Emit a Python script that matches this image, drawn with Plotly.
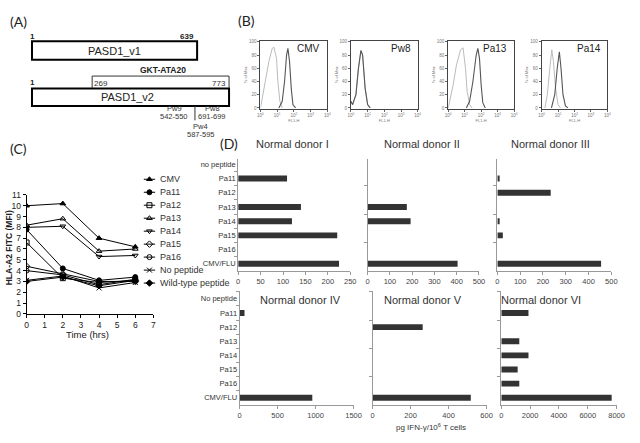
import plotly.graph_objects as go

W, H = 640, 443
FONT = "Liberation Sans, Arial, sans-serif"


def px(x):
    return x / W


def py(y):
    return 1 - y / H


# ---------------- Panel C data ----------------
time_hrs = [0, 2, 4, 6]
cmv = [10.0, 10.2, 7.0, 6.2]
pa11 = [7.8, 4.2, 3.1, 3.4]
pa12 = [6.6, 3.3, 2.9, 3.1]
pa13 = [8.2, 8.8, 5.8, 6.0]
pa14 = [8.0, 8.1, 5.3, 5.4]
pa15 = [4.4, 3.7, 3.0, 3.0]
pa16 = [4.0, 3.6, 2.7, 3.2]
no_peptide = [3.1, 3.5, 2.4, 2.9]
wild_type = [3.0, 3.4, 2.6, 3.1]
series_names = ["CMV", "Pa11", "Pa12", "Pa13", "Pa14", "Pa15", "Pa16",
                "No peptide", "Wild-type peptide"]
series_values = [cmv, pa11, pa12, pa13, pa14, pa15, pa16, no_peptide, wild_type]

# ---------------- Panel D data ----------------
peptides_top = ["no peptide", "Pa11", "Pa12", "Pa13", "Pa14", "Pa15", "Pa16", "CMV/FLU"]
peptides_bottom = ["No peptide", "Pa11", "Pa12", "Pa13", "Pa14", "Pa15", "Pa16", "CMV/FLU"]
donor_I = [0, 109, 0, 140, 120, 221, 0, 225]
donor_II = [0, 0, 0, 176, 193, 0, 0, 404]
donor_III = [0, 10, 234, 0, 10, 24, 0, 455]
donor_IV = [0, 65, 0, 0, 0, 0, 0, 957]
donor_V = [0, 0, 264, 0, 0, 0, 0, 517]
donor_VI = [0, 1886, 0, 1250, 1886, 1136, 1250, 7660]
donor_titles = ["Normal donor I", "Normal donor II", "Normal donor III",
                "Normal donor IV", "Normal donor V", "Normal donor VI"]
donor_ranges = [250, 500, 500, 1500, 600, 8000]
donor_dticks = [50, 100, 100, 500, 200, 2000]

# ---------------- Panel B data (log10 FL1-H, % of max) ----------------
hist_titles = ["CMV", "Pw8", "Pa13", "Pa14"]
cmv_ctrl_x = [0.0, 0.3, 0.5, 0.7, 0.8, 0.96, 1.04, 1.16, 1.3]
cmv_ctrl_y = [0, 40, 70, 90, 92, 75, 40, 10, 0]
cmv_pep_x = [1.1, 1.3, 1.44, 1.56, 1.64, 1.74, 1.84, 1.94, 2.1]
cmv_pep_y = [0, 10, 40, 80, 90, 70, 30, 5, 0]
pw8_ctrl_x = [0.0, 0.1, 0.3, 0.45, 0.6, 0.7, 0.85, 1.0, 1.15]
pw8_ctrl_y = [10, 5, 20, 60, 86, 80, 30, 5, 0]
pw8_pep_x = [0.0, 0.1, 0.3, 0.45, 0.6, 0.7, 0.85, 1.0, 1.15]
pw8_pep_y = [10, 5, 20, 60, 87, 80, 30, 5, 0]
pa13_ctrl_x = [0.0, 0.3, 0.5, 0.75, 0.9, 1.05, 1.15, 1.3, 1.45]
pa13_ctrl_y = [0, 35, 65, 88, 91, 60, 25, 5, 0]
pa13_pep_x = [1.1, 1.3, 1.5, 1.7, 1.8, 1.9, 2.0, 2.1, 2.25]
pa13_pep_y = [0, 10, 40, 80, 90, 75, 35, 8, 0]
pa14_ctrl_x = [0.2, 0.35, 0.5, 0.62, 0.72, 0.85, 1.0, 1.15]
pa14_ctrl_y = [0, 20, 60, 88, 70, 30, 5, 0]
pa14_pep_x = [0.6, 0.8, 0.95, 1.08, 1.18, 1.3, 1.45, 1.6]
pa14_pep_y = [0, 20, 60, 85, 60, 20, 3, 0]
hist_ctrl = [(cmv_ctrl_x, cmv_ctrl_y), (pw8_ctrl_x, pw8_ctrl_y),
             (pa13_ctrl_x, pa13_ctrl_y), (pa14_ctrl_x, pa14_ctrl_y)]
hist_pep = [(cmv_pep_x, cmv_pep_y), (pw8_pep_x, pw8_pep_y),
            (pa13_pep_x, pa13_pep_y), (pa14_pep_x, pa14_pep_y)]

fig = go.Figure()
layout = dict(
    width=W, height=H, margin=dict(l=0, r=0, t=0, b=0),
    paper_bgcolor="white", plot_bgcolor="rgba(0,0,0,0)",
    showlegend=False, font=dict(family=FONT, color="#222"),
)
annotations = []
shapes = []


def txt(t, x, y, size=8, anchor="center", bold=False, color="#222", angle=0, family=None):
    f = dict(size=size, color=color)
    if family:
        f["family"] = family
    annotations.append(dict(text=f"<b>{t}</b>" if bold else t, xref="paper", yref="paper",
                            x=px(x), y=py(y), xanchor=anchor, yanchor="middle",
                            textangle=angle, showarrow=False, font=f))


# ---------------- Panel B ----------------
hist_boxes = [(262, 330), (354, 422), (453, 520), (548, 615)]
for i, (x0, x1) in enumerate(hist_boxes):
    n = i + 1
    xa, ya = f"x{n}", f"y{n}"
    cx, cy = hist_ctrl[i]
    fig.add_trace(go.Scatter(x=[10 ** v for v in cx], y=cy, mode="lines",
                             line=dict(color="#bbbbbb", width=1), xaxis=xa, yaxis=ya))
    ex, ey = hist_pep[i]
    fig.add_trace(go.Scatter(x=[10 ** v for v in ex], y=ey, mode="lines",
                             line=dict(color="#555555", width=1.1), xaxis=xa, yaxis=ya))
    layout[f"xaxis{n}"] = dict(
        domain=[px(x0), px(x1)], anchor=ya, type="log", range=[0, 4],
        tickvals=[1, 10, 100, 1000, 10000],
        ticktext=["10<sup>0</sup>", "10<sup>1</sup>", "10<sup>2</sup>", "10<sup>3</sup>", "10<sup>4</sup>"],
        tickfont=dict(size=4.5, color="#777"), ticks="outside", ticklen=2, tickcolor="#666",
        showline=True, mirror=True, linecolor="#444", linewidth=1, showgrid=False, zeroline=False,
        title=dict(text="FL1-H", font=dict(size=4, color="#777"), standoff=1),
    )
    layout[f"yaxis{n}"] = dict(
        domain=[py(106), py(37)], anchor=xa, range=[-1, 101],
        tickvals=[0, 20, 40, 60, 80, 100],
        tickfont=dict(size=4.5, color="#777"), ticks="outside", ticklen=2, tickcolor="#666",
        showline=True, mirror=True, linecolor="#444", linewidth=1, showgrid=False, zeroline=False,
        title=dict(text="% of Max", font=dict(size=4, color="#777"), standoff=1),
    )
    txt(hist_titles[i], x1 - 5, 44, size=10, anchor="right")

# ---------------- Panel C ----------------
symbols = ["triangle-up", "circle", "square-open", "triangle-up-open", "triangle-down-open",
           "diamond-open", "circle-open", "x-thin-open", "diamond"]
for name, vals, sym in zip(series_names, series_values, symbols):
    fig.add_trace(go.Scatter(x=time_hrs, y=vals, mode="lines+markers", name=name,
                             line=dict(color="black", width=1),
                             marker=dict(symbol=sym, size=5, color="black",
                                         line=dict(color="black", width=1)),
                             xaxis="x5", yaxis="y5"))
layout["xaxis5"] = dict(
    domain=[px(24), px(153)], anchor="y5", range=[0, 7], dtick=1,
    ticks="outside", ticklen=3, tickcolor="black", showline=True, linecolor="black", linewidth=1,
    tickfont=dict(size=8.5, color="#222"), showgrid=False, zeroline=False,
)
layout["yaxis5"] = dict(
    domain=[py(316), py(194.3)], anchor="x5", range=[0, 11], dtick=1,
    ticks="outside", ticklen=3, tickcolor="black", showline=True, linecolor="black", linewidth=1,
    tickfont=dict(size=8.5, color="#222"), showgrid=False, zeroline=False,
)
txt("Time (hrs)", 86, 337, size=9.5)
txt("HLA-A2 FITC (MFI)", 7, 248, size=8.5, bold=True, angle=-90)

# legend for panel C (drawn on its own small axis)
for idx, (name, sym) in enumerate(zip(series_names, symbols)):
    fig.add_trace(go.Scatter(x=[0, 0.5, 1], y=[idx, idx, idx], mode="lines",
                             line=dict(color="black", width=1), xaxis="x12", yaxis="y12",
                             hoverinfo="skip"))
    fig.add_trace(go.Scatter(x=[0.5], y=[idx], mode="markers",
                             marker=dict(symbol=sym, size=5, color="black",
                                         line=dict(color="black", width=1)),
                             xaxis="x12", yaxis="y12", hoverinfo="skip"))
    annotations.append(dict(text=name, xref="x12", yref="y12", x=1, y=idx, xanchor="left",
                            yanchor="middle", xshift=3, showarrow=False,
                            font=dict(size=9, color="#333")))
layout["xaxis12"] = dict(domain=[px(143), px(155)], anchor="y12", range=[0, 1], visible=False)
layout["yaxis12"] = dict(domain=[py(292), py(170)], anchor="x12", range=[8.565, -0.625],
                         visible=False)

# ---------------- Panel D ----------------
donor_data = [donor_I, donor_II, donor_III, donor_IV, donor_V, donor_VI]
donor_x = [(239.3, 353.3), (371, 484.3), (503, 619), (240.7, 356.7), (376, 492), (507, 624.3)]
for k in range(6):
    n = 6 + k
    xa, ya = f"x{n}", f"y{n}"
    top = k < 3
    cats = peptides_top if top else peptides_bottom
    fig.add_trace(go.Bar(x=donor_data[k], y=cats, orientation="h", width=0.42,
                         marker=dict(color="#333333", line=dict(width=0)),
                         xaxis=xa, yaxis=ya))
    x0, x1 = donor_x[k]
    if top:
        ydom = [py(272), py(158)]
        yrng = [7.5, -0.35]
    else:
        ydom = [py(409), py(293)]
        yrng = [7.5, -0.53]
    layout[f"xaxis{n}"] = dict(
        domain=[px(x0), px(x1)], anchor=ya, range=[0, donor_ranges[k]], dtick=donor_dticks[k],
        ticks="outside", ticklen=3, tickcolor="#999", showline=True, linecolor="#999",
        linewidth=1, tickfont=dict(size=7.5, color="#444"), showgrid=False, zeroline=False,
    )
    layout[f"yaxis{n}"] = dict(
        domain=ydom, anchor=xa, type="category", range=yrng, tickson="boundaries",
        ticks="outside", ticklen=3, tickcolor="#999", showline=True, linecolor="#999",
        linewidth=1, showticklabels=(k in (0, 3)), tickfont=dict(size=7.5, color="#333"),
        showgrid=False, zeroline=False,
    )

title_pos = [(295, 142), (426, 142), (557, 142), (303, 302), (427, 302), (547, 302)]
for k, (tx, ty) in enumerate(title_pos):
    txt(donor_titles[k], tx, ty, size=11, color="#333")
txt("pg IFN-γ/10<sup>6</sup> T cells", 435, 432, size=8, color="#333")

# ---------------- Panel labels ----------------
for lab, lx, ly in [("(A)", 16, 17), ("(B)", 248, 16), ("(C)", 16, 147), ("(D)", 230, 142)]:
    txt(lab, lx, ly, size=14, family="Lato, " + FONT)


# ---------------- Panel A (schematic) ----------------
def rect(x0, y0, x1, y1, w=2):
    shapes.append(dict(type="rect", xref="paper", yref="paper", x0=px(x0), x1=px(x1),
                       y0=py(y1), y1=py(y0), line=dict(color="black", width=w),
                       fillcolor="white", layer="below"))


def seg(x0, y0, x1, y1, w=1, c="#333"):
    shapes.append(dict(type="line", xref="paper", yref="paper", x0=px(x0), x1=px(x1),
                       y0=py(y0), y1=py(y1), line=dict(color=c, width=w)))


rect(29.5, 37, 197.5, 56)
txt("PASD1_v1", 113, 47, size=11)
txt("1", 30, 32, bold=True)
txt("639", 187, 32, bold=True)
txt("GKT-ATA20", 163, 66, size=8.5, bold=True)
seg(90.7, 72.7, 230, 72.7)
seg(90.7, 72.7, 90.7, 85)
seg(230, 72.7, 230, 85)
txt("1", 30, 79, bold=True)
txt("269", 91, 80, anchor="left", color="#333")
txt("773", 229, 80, anchor="right", color="#333")
rect(29.5, 85.5, 230, 103.3)
txt("PASD1_v2", 127, 94, size=11)
seg(195.3, 103.3, 195.3, 118)
txt("Pw9", 174, 106, size=7.5, color="#333")
txt("542-550", 174, 114, size=7.5, color="#333")
txt("Pw8", 212.7, 106, size=7.5, color="#333")
txt("691-699", 212.7, 114, size=7.5, color="#333")
txt("Pw4", 201, 124, size=7.5, color="#333")
txt("587-595", 201, 132, size=7.5, color="#333")

layout["annotations"] = annotations
layout["shapes"] = shapes
fig.update_layout(**layout)
fig.write_html("out.html", config={"displayModeBar": False},
               post_script="document.body.style.margin='0';")
